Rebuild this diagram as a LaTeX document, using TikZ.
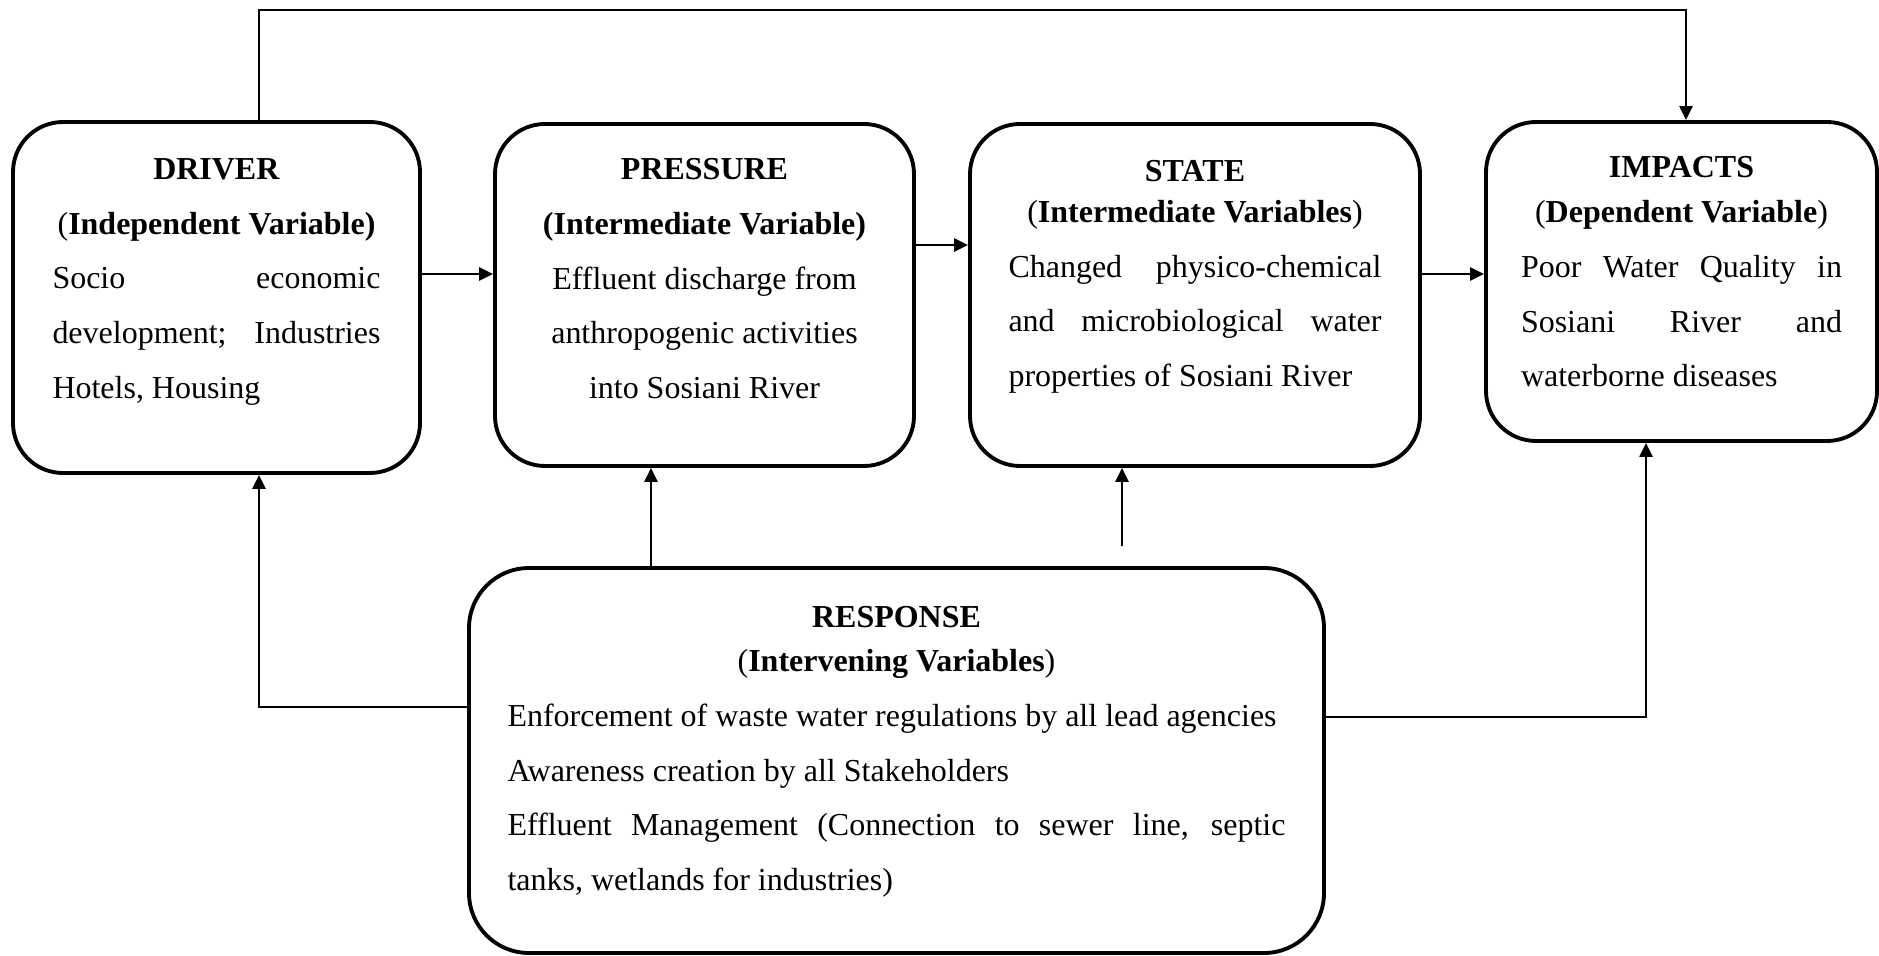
\documentclass[tikz,border=0pt]{standalone}
\usepackage{fontspec}
\setmainfont{Liberation Serif}
\usetikzlibrary{arrows.meta,calc}
\newcommand{\hd}[3][0pt]{{\centering\textbf{#2}\\[#1]#3\par}}

\begin{document}
\begin{tikzpicture}[x=1cm,y=1cm,
  box/.style={draw,line width=1.1pt,rounded corners=0.5cm,inner sep=0pt},
  txt/.style={inner sep=0pt,anchor=north,align=justify,font={\fontsize{9.1}{15.6}\selectfont\hyphenpenalty=10000}},
  arr/.style={line width=0.7pt,-{Triangle[length=1.4mm,width=1.3mm]}}]
\useasboundingbox (0,0) rectangle (18.79,9.55);
\node[box,minimum width=4.07cm,minimum height=3.51cm] (driver) at (2.165,6.575) {};
\node[box,minimum width=4.19cm,minimum height=3.42cm] (pressure) at (7.045,6.60) {};
\node[box,minimum width=4.50cm,minimum height=3.42cm] (state) at (11.95,6.60) {};
\node[box,minimum width=3.91cm,minimum height=3.19cm] (impacts) at (16.815,6.735) {};
\node[box,rounded corners=0.6cm,minimum width=8.55cm,minimum height=3.85cm] (response) at (8.965,1.945) {};
\node[txt,text width=3.28cm] (drivertxt) at ($(driver.north)+(0,-0.375)$)
  {\hd{DRIVER}{(\textbf{Independent Variable)}}Socio economic\linebreak development; Industries\linebreak Hotels, Housing};
\node[txt,align=flush center,text width=3.4cm] (pressuretxt) at ($(pressure.north)+(0,-0.355)$)
  {\hd{PRESSURE}{\textbf{(Intermediate Variable)}}Effluent discharge from\\ anthropogenic activities\\ into Sosiani River};
\node[txt,text width=3.73cm] (statetxt) at ($(state.north)+(0,-0.375)$)
  {\hd[-4pt]{STATE}{(\textbf{Intermediate Variables})}Changed physico-chemical\linebreak and microbiological water\linebreak properties of Sosiani River};
\node[txt,text width=3.21cm] (impactstxt) at ($(impacts.north)+(0,-0.355)$)
  {\hd[-2.8pt]{IMPACTS}{(\textbf{Dependent Variable})}Poor Water Quality in\linebreak Sosiani River and\linebreak waterborne diseases};
\node[txt,text width=7.78cm] (responsetxt) at ($(response.north)+(0,-0.395)$)
  {\hd[-3.1pt]{RESPONSE}{(\textbf{Intervening Variables})}Enforcement of waste water regulations by all lead agencies\par
   Awareness creation by all Stakeholders\par
   Effluent Management (Connection to sewer line, septic\linebreak tanks, wetlands for industries)};
\coordinate (topline) at (0,9.45);
\coordinate (dp) at ($(driver.east)+(0,0.235)$);
\coordinate (ps) at ($(pressure.east)+(0,0.50)$);
\coordinate (si) at ($(state.east)+(0,0.21)$);
\coordinate (dtop) at ($(driver.north)+(0.425,0)$);
\coordinate (itop) at ($(impacts.north)+(0.045,0)$);
\coordinate (dbot) at ($(driver.south)+(0.425,0)$);
\coordinate (ibot) at ($(impacts.south)+(-0.355,0)$);
\coordinate (pbot) at ($(pressure.south)+(-0.535,0)$);
\coordinate (sbot) at ($(state.south)+(-0.73,0)$);
\draw[arr] (dp) -- (dp -| pressure.west);
\draw[arr] (ps) -- (ps -| state.west);
\draw[arr] (si) -- (si -| impacts.west);
\draw[arr] (dtop) -- (dtop |- topline) -| (itop);
\draw[arr] (pbot |- response.north) -- (pbot);
\draw[arr] ($(sbot |- response.north)+(0,0.2)$) -- (sbot);
\draw[arr] ($(response.west)+(0,0.535)$) -| (dbot);
\draw[arr] ($(response.east)+(0,0.435)$) -| (ibot);
\end{tikzpicture}
\end{document}
